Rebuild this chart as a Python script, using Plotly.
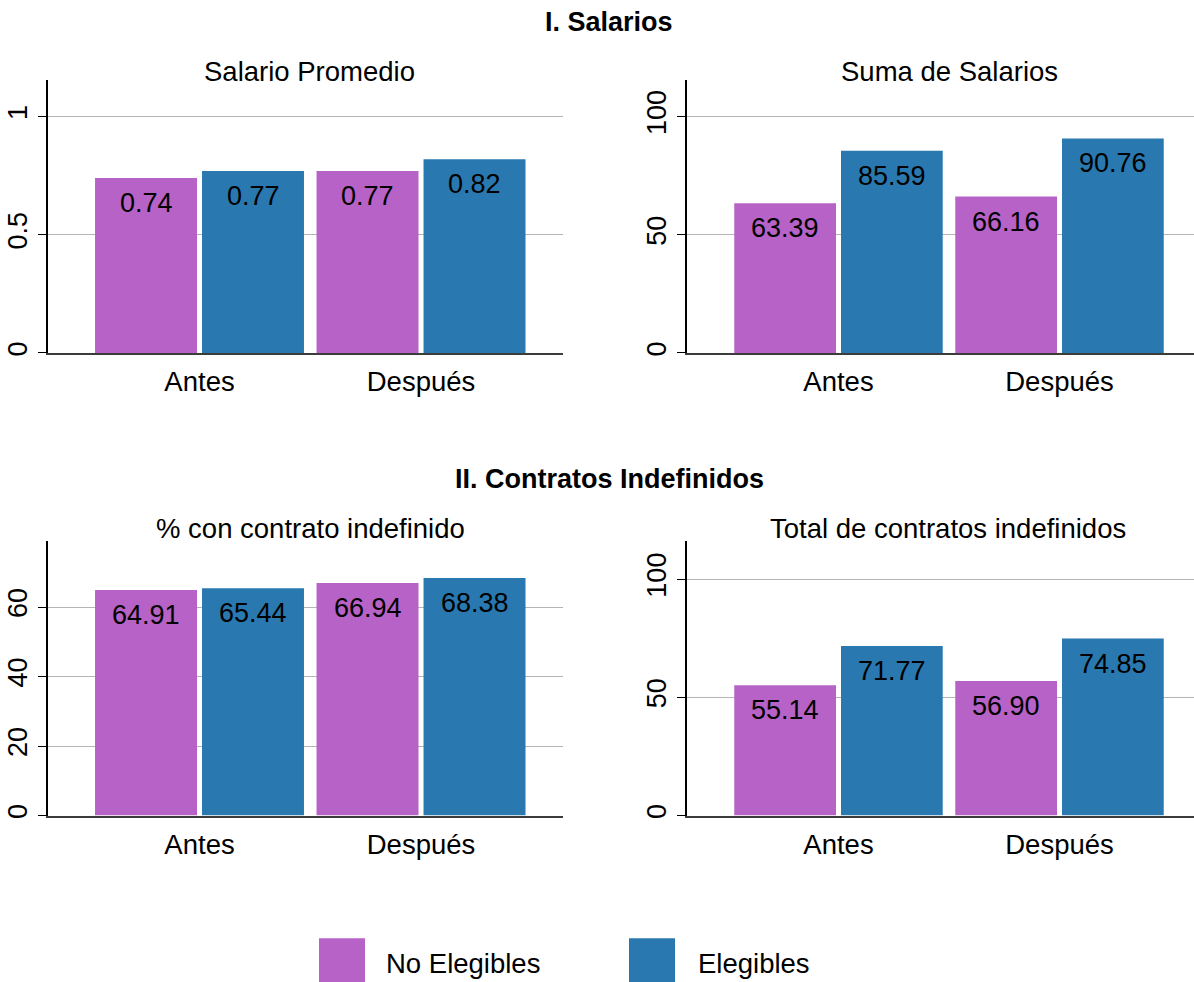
import plotly.graph_objects as go

# ---------------- data ----------------
categories = ["Antes", "Después"]
group_names = ["No Elegibles", "Elegibles"]

salario_prom_no = [0.74, 0.77]
salario_prom_el = [0.77, 0.82]

suma_sal_no = [63.39, 66.16]
suma_sal_el = [85.59, 90.76]

pct_indef_no = [64.91, 66.94]
pct_indef_el = [65.44, 68.38]

total_indef_no = [55.14, 56.90]
total_indef_el = [71.77, 74.85]

panel_titles = ["Salario Promedio", "Suma de Salarios",
                "% con contrato indefinido", "Total de contratos indefinidos"]
section_titles = ["I. Salarios", "II. Contratos Indefinidos"]

ytick_vals = [[0, 0.5, 1], [0, 50, 100], [0, 20, 40, 60], [0, 50, 100]]
ytick_text = [["0", "0.5", "1"], ["0", "50", "100"], ["0", "20", "40", "60"], ["0", "50", "100"]]

# ---------------- style ----------------
W, H = 1194, 982
C_NO = "#B762C6"
C_EL = "#2979B0"
FONT = "Liberation Sans"
FS = 27.5      # titles, category labels, legend
FS_VAL = 27    # value labels
FS_TICK = 27   # y tick labels

def px(x):
    return x / W

def py(y):
    return 1 - y / H

# panel boxes in pixels: (left, right, top, bottom)
boxes = [(48, 563, 80, 354), (687, 1194, 80, 354),
         (48, 563, 543, 818), (687, 1194, 543, 818)]
yranges = [[0, 1.156], [0, 115.6], [0, 78.95], [0, 116]]
xranges = [[-0.684, 1.641], [-0.6855, 1.6086], [-0.684, 1.641], [-0.6855, 1.6086]]

data_pairs = [(salario_prom_no, salario_prom_el), (suma_sal_no, suma_sal_el),
              (pct_indef_no, pct_indef_el), (total_indef_no, total_indef_el)]

fig = go.Figure()
annotations = []

for i, (vno, vel) in enumerate(data_pairs):
    sfx = "" if i == 0 else str(i + 1)
    xa, ya = "x" + sfx, "y" + sfx
    fig.add_trace(go.Bar(x=categories, y=vno, name=group_names[0], marker_color=C_NO,
                         marker_line_width=0, xaxis=xa, yaxis=ya, showlegend=False,
                         hoverinfo="skip"))
    fig.add_trace(go.Bar(x=categories, y=vel, name=group_names[1], marker_color=C_EL,
                         marker_line_width=0, xaxis=xa, yaxis=ya, showlegend=False,
                         hoverinfo="skip"))
    l, r, t, b = boxes[i]
    ppu = (r - l) / (xranges[i][1] - xranges[i][0])  # pixels per category unit
    off = ppu * (1 - 0.034) / 4
    for vals, sgn in ((vno, -1), (vel, 1)):
        for c, v in zip(categories, vals):
            annotations.append(dict(x=c, y=v, xref=xa, yref=ya, text=f"{v:.2f}",
                                    showarrow=False, yanchor="top", xanchor="center",
                                    xshift=sgn * off, yshift=-8,
                                    font=dict(family=FONT, size=FS_VAL, color="black")))
    fig.layout["xaxis" + sfx] = dict(
        domain=[px(l), px(r)], range=xranges[i], type="category",
        showline=True, linecolor="#3c3c3c", linewidth=2, ticks="",
        showgrid=False, zeroline=False, anchor=ya,
        tickfont=dict(family=FONT, size=FS, color="black"),
        ticklabelstandoff=3, fixedrange=True)
    fig.layout["yaxis" + sfx] = dict(
        domain=[py(b), py(t)], range=yranges[i], showline=True,
        linecolor="black", linewidth=1.5, ticks="outside", ticklen=8,
        tickcolor="black", tickwidth=1.2, tickangle=-90,
        tickvals=ytick_vals[i], ticktext=ytick_text[i],
        showgrid=True, gridcolor="#b4b4b4", gridwidth=1, zeroline=False,
        anchor=xa, tickfont=dict(family=FONT, size=FS_TICK, color="black"),
        fixedrange=True)

# panel titles
title_pos = [(309.5, 72), (949.5, 72), (310, 530), (948.5, 530)]
for (x, y), txt in zip(title_pos, panel_titles):
    annotations.append(dict(x=px(x), y=py(y), xref="paper", yref="paper", text=txt,
                            showarrow=False, xanchor="center", yanchor="middle",
                            font=dict(family=FONT, size=FS, color="black")))

# section titles
for y, txt in zip([22, 480], section_titles):
    annotations.append(dict(x=px(609), y=py(y), xref="paper", yref="paper",
                            text=f"<b>{txt}</b>", showarrow=False, xanchor="center",
                            yanchor="middle",
                            font=dict(family=FONT, size=27, color="black")))

# legend (drawn manually with large swatches)
shapes = []
legend_items = [(319, 384, C_NO, group_names[0]), (629, 696, C_EL, group_names[1])]
for sx, tx, col, name in legend_items:
    shapes.append(dict(type="rect", xref="paper", yref="paper",
                       x0=px(sx), x1=px(sx + 46), y0=py(987), y1=py(941),
                       fillcolor=col, line=dict(width=0)))
    annotations.append(dict(x=px(tx), y=py(966), xref="paper", yref="paper", text=name,
                            showarrow=False, xanchor="left", yanchor="middle",
                            font=dict(family=FONT, size=FS, color="black")))

fig.update_layout(
    width=W, height=H, margin=dict(l=0, r=0, t=0, b=0),
    paper_bgcolor="white", plot_bgcolor="white",
    barmode="group", bargap=0.034, bargroupgap=0.047,
    annotations=annotations, shapes=shapes, showlegend=False,
    font=dict(family=FONT, size=FS, color="black"),
)

fig.write_html("out.html")
